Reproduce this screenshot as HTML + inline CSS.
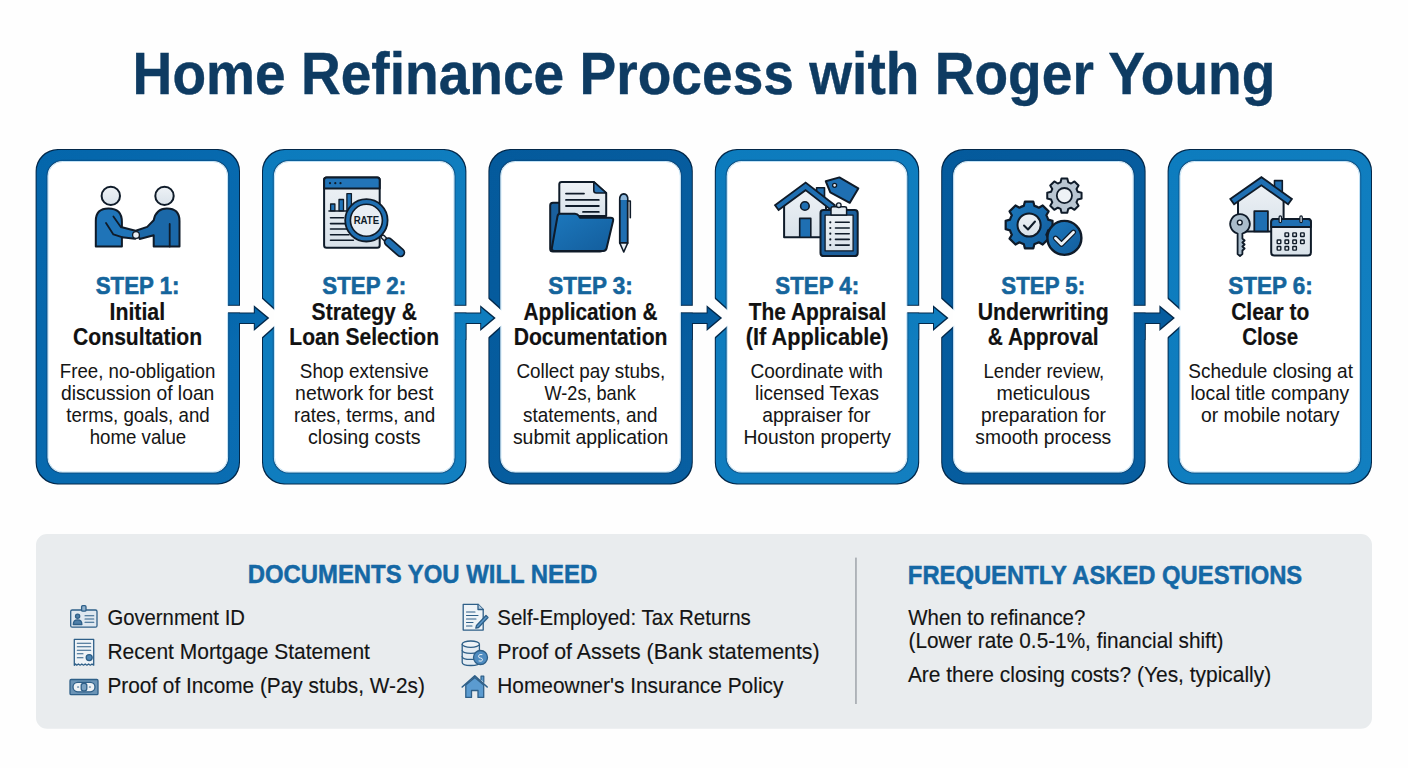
<!DOCTYPE html><html><head><meta charset="utf-8"><style>html,body{margin:0;padding:0;background:#fefefe;}svg{display:block;} text{font-family:"Liberation Sans", sans-serif;}</style></head><body>
<svg width="1408" height="768" viewBox="0 0 1408 768">
<defs>
<linearGradient id="g0" x1="0" y1="0" x2="1" y2="1"><stop offset="0" stop-color="#0466ab"/><stop offset="1" stop-color="#0a6db2"/></linearGradient>
<linearGradient id="g1" x1="0" y1="0" x2="1" y2="1"><stop offset="0" stop-color="#0c7bbd"/><stop offset="1" stop-color="#127fc0"/></linearGradient>
<linearGradient id="g2" x1="0" y1="0" x2="1" y2="1"><stop offset="0" stop-color="#045a9c"/><stop offset="1" stop-color="#085fa1"/></linearGradient>
<linearGradient id="g3" x1="0" y1="0" x2="1" y2="1"><stop offset="0" stop-color="#0c7bbd"/><stop offset="1" stop-color="#137fc0"/></linearGradient>
<linearGradient id="g4" x1="0" y1="0" x2="1" y2="1"><stop offset="0" stop-color="#045a9c"/><stop offset="1" stop-color="#085fa1"/></linearGradient>
<linearGradient id="g5" x1="0" y1="0" x2="1" y2="1"><stop offset="0" stop-color="#0d7cbe"/><stop offset="1" stop-color="#127fc0"/></linearGradient>
<linearGradient id="ib" x1="0" y1="0" x2="1" y2="1"><stop offset="0" stop-color="#1c78bd"/><stop offset="1" stop-color="#135d9c"/></linearGradient>
<linearGradient id="il" x1="0" y1="0" x2="0" y2="1"><stop offset="0" stop-color="#eef2f6"/><stop offset="1" stop-color="#d9e2ea"/></linearGradient>
<filter id="ol" x="-2%" y="-2%" width="104%" height="104%" color-interpolation-filters="sRGB"><feMorphology in="SourceAlpha" operator="erode" radius="1.3" result="e"/><feComposite in="SourceGraphic" in2="e" operator="in" result="inner"/><feFlood flood-color="#03284a" result="f"/><feComposite in="f" in2="SourceAlpha" operator="in" result="outl"/><feMerge><feMergeNode in="outl"/><feMergeNode in="inner"/></feMerge></filter>
<mask id="gm" maskUnits="userSpaceOnUse" x="0" y="0" width="1408" height="768"><rect x="0" y="0" width="1408" height="768" fill="#fff"/>
<rect x="225.0" y="305.8" width="17" height="6.8" fill="#000"/>
<polygon points="260.0,297 277.0,312.3 277.0,323.7 260.0,339" fill="#000"/>
<rect x="451.4" y="305.8" width="17" height="6.8" fill="#000"/>
<polygon points="486.4,297 503.4,312.3 503.4,323.7 486.4,339" fill="#000"/>
<rect x="677.8000000000001" y="305.8" width="17" height="6.8" fill="#000"/>
<polygon points="712.8000000000001,297 729.8000000000001,312.3 729.8000000000001,323.7 712.8000000000001,339" fill="#000"/>
<rect x="904.2" y="305.8" width="17" height="6.8" fill="#000"/>
<polygon points="939.2,297 956.2,312.3 956.2,323.7 939.2,339" fill="#000"/>
<rect x="1130.6000000000001" y="305.8" width="17" height="6.8" fill="#000"/>
<polygon points="1165.6000000000001,297 1182.6000000000001,312.3 1182.6000000000001,323.7 1165.6000000000001,339" fill="#000"/>
</mask>
</defs>
<rect x="0" y="0" width="1408" height="768" fill="#fefefe"/>
<text x="132.60" y="93.9" font-size="59.8" fill="#0e3b62" font-weight="bold" textLength="1142.81" lengthAdjust="spacingAndGlyphs" stroke="#0e3b62" stroke-width="0.4">Home Refinance Process with Roger Young</text>
<g filter="url(#ol)">
<path d="M57.6,149.0 H218.0 A22,22 0 0 1 240.0,171.0 V462.5 A22,22 0 0 1 218.0,484.5 H57.6 A22,22 0 0 1 35.6,462.5 V171.0 A22,22 0 0 1 57.6,149.0 Z M62.6,162.0 H213.0 A14,14 0 0 1 227.0,176.0 V457.5 A14,14 0 0 1 213.0,471.5 H62.6 A14,14 0 0 1 48.6,457.5 V176.0 A14,14 0 0 1 62.6,162.0 Z" fill="url(#g0)" fill-rule="evenodd" mask="url(#gm)"/>
<path d="M284.0,149.0 H444.4 A22,22 0 0 1 466.4,171.0 V462.5 A22,22 0 0 1 444.4,484.5 H284.0 A22,22 0 0 1 262.0,462.5 V171.0 A22,22 0 0 1 284.0,149.0 Z M289.0,162.0 H439.4 A14,14 0 0 1 453.4,176.0 V457.5 A14,14 0 0 1 439.4,471.5 H289.0 A14,14 0 0 1 275.0,457.5 V176.0 A14,14 0 0 1 289.0,162.0 Z" fill="url(#g1)" fill-rule="evenodd" mask="url(#gm)"/>
<path d="M510.40000000000003,149.0 H670.8000000000001 A22,22 0 0 1 692.8000000000001,171.0 V462.5 A22,22 0 0 1 670.8000000000001,484.5 H510.40000000000003 A22,22 0 0 1 488.40000000000003,462.5 V171.0 A22,22 0 0 1 510.40000000000003,149.0 Z M515.4000000000001,162.0 H665.8000000000001 A14,14 0 0 1 679.8000000000001,176.0 V457.5 A14,14 0 0 1 665.8000000000001,471.5 H515.4000000000001 A14,14 0 0 1 501.40000000000003,457.5 V176.0 A14,14 0 0 1 515.4000000000001,162.0 Z" fill="url(#g2)" fill-rule="evenodd" mask="url(#gm)"/>
<path d="M736.8000000000001,149.0 H897.2 A22,22 0 0 1 919.2,171.0 V462.5 A22,22 0 0 1 897.2,484.5 H736.8000000000001 A22,22 0 0 1 714.8000000000001,462.5 V171.0 A22,22 0 0 1 736.8000000000001,149.0 Z M741.8000000000001,162.0 H892.2 A14,14 0 0 1 906.2,176.0 V457.5 A14,14 0 0 1 892.2,471.5 H741.8000000000001 A14,14 0 0 1 727.8000000000001,457.5 V176.0 A14,14 0 0 1 741.8000000000001,162.0 Z" fill="url(#g3)" fill-rule="evenodd" mask="url(#gm)"/>
<path d="M963.2,149.0 H1123.6000000000001 A22,22 0 0 1 1145.6000000000001,171.0 V462.5 A22,22 0 0 1 1123.6000000000001,484.5 H963.2 A22,22 0 0 1 941.2,462.5 V171.0 A22,22 0 0 1 963.2,149.0 Z M968.2,162.0 H1118.6000000000001 A14,14 0 0 1 1132.6000000000001,176.0 V457.5 A14,14 0 0 1 1118.6000000000001,471.5 H968.2 A14,14 0 0 1 954.2,457.5 V176.0 A14,14 0 0 1 968.2,162.0 Z" fill="url(#g4)" fill-rule="evenodd" mask="url(#gm)"/>
<path d="M1189.6,149.0 H1350.0 A22,22 0 0 1 1372.0,171.0 V462.5 A22,22 0 0 1 1350.0,484.5 H1189.6 A22,22 0 0 1 1167.6,462.5 V171.0 A22,22 0 0 1 1189.6,149.0 Z M1194.6,162.0 H1345.0 A14,14 0 0 1 1359.0,176.0 V457.5 A14,14 0 0 1 1345.0,471.5 H1194.6 A14,14 0 0 1 1180.6,457.5 V176.0 A14,14 0 0 1 1194.6,162.0 Z" fill="url(#g5)" fill-rule="evenodd" mask="url(#gm)"/>
<polygon points="227.0,312.6 253.8,312.6 253.8,305.2 269.3,318.1 253.8,331.0 253.8,324.0 240.0,324.0 240.0,340.0 227.0,340.0" fill="url(#g0)"/>
<polygon points="453.4,312.6 480.2,312.6 480.2,305.2 495.7,318.1 480.2,331.0 480.2,324.0 466.4,324.0 466.4,340.0 453.4,340.0" fill="url(#g1)"/>
<polygon points="679.8,312.6 706.6,312.6 706.6,305.2 722.1,318.1 706.6,331.0 706.6,324.0 692.8,324.0 692.8,340.0 679.8,340.0" fill="url(#g2)"/>
<polygon points="906.2,312.6 933.0,312.6 933.0,305.2 948.5,318.1 933.0,331.0 933.0,324.0 919.2,324.0 919.2,340.0 906.2,340.0" fill="url(#g3)"/>
<polygon points="1132.6,312.6 1159.4,312.6 1159.4,305.2 1174.9,318.1 1159.4,331.0 1159.4,324.0 1145.6,324.0 1145.6,340.0 1132.6,340.0" fill="url(#g4)"/>
</g>
<path d="M62.6,160.9 H213.0 A15.1,15.1 0 0 1 228.1,176.0 V457.5 A15.1,15.1 0 0 1 213.0,472.6 H62.6 A15.1,15.1 0 0 1 47.5,457.5 V176.0 A15.1,15.1 0 0 1 62.6,160.9 Z" fill="#ffffff"/>
<path d="M62.599999999999994,160.3 H213.0 A15.7,15.7 0 0 1 228.7,176.0 V457.5 A15.7,15.7 0 0 1 213.0,473.2 H62.599999999999994 A15.7,15.7 0 0 1 46.9,457.5 V176.0 A15.7,15.7 0 0 1 62.599999999999994,160.3 Z" fill="none" stroke="#083f6e" stroke-opacity="0.45" stroke-width="1.2" mask="url(#gm)"/>
<path d="M62.6,161.5 H213.0 A14.5,14.5 0 0 1 227.5,176.0 V457.5 A14.5,14.5 0 0 1 213.0,472.0 H62.6 A14.5,14.5 0 0 1 48.1,457.5 V176.0 A14.5,14.5 0 0 1 62.6,161.5 Z" fill="none" stroke="#a6d6f2" stroke-opacity="0.7" stroke-width="1" mask="url(#gm)"/>
<path d="M289.0,160.9 H439.4 A15.1,15.1 0 0 1 454.5,176.0 V457.5 A15.1,15.1 0 0 1 439.4,472.6 H289.0 A15.1,15.1 0 0 1 273.9,457.5 V176.0 A15.1,15.1 0 0 1 289.0,160.9 Z" fill="#ffffff"/>
<path d="M289.0,160.3 H439.4 A15.7,15.7 0 0 1 455.09999999999997,176.0 V457.5 A15.7,15.7 0 0 1 439.4,473.2 H289.0 A15.7,15.7 0 0 1 273.3,457.5 V176.0 A15.7,15.7 0 0 1 289.0,160.3 Z" fill="none" stroke="#083f6e" stroke-opacity="0.45" stroke-width="1.2" mask="url(#gm)"/>
<path d="M289.0,161.5 H439.4 A14.5,14.5 0 0 1 453.9,176.0 V457.5 A14.5,14.5 0 0 1 439.4,472.0 H289.0 A14.5,14.5 0 0 1 274.5,457.5 V176.0 A14.5,14.5 0 0 1 289.0,161.5 Z" fill="none" stroke="#a6d6f2" stroke-opacity="0.7" stroke-width="1" mask="url(#gm)"/>
<path d="M515.4,160.9 H665.8000000000001 A15.1,15.1 0 0 1 680.9000000000001,176.0 V457.5 A15.1,15.1 0 0 1 665.8000000000001,472.6 H515.4 A15.1,15.1 0 0 1 500.3,457.5 V176.0 A15.1,15.1 0 0 1 515.4,160.9 Z" fill="#ffffff"/>
<path d="M515.4000000000001,160.3 H665.8000000000001 A15.7,15.7 0 0 1 681.5000000000001,176.0 V457.5 A15.7,15.7 0 0 1 665.8000000000001,473.2 H515.4000000000001 A15.7,15.7 0 0 1 499.70000000000005,457.5 V176.0 A15.7,15.7 0 0 1 515.4000000000001,160.3 Z" fill="none" stroke="#083f6e" stroke-opacity="0.45" stroke-width="1.2" mask="url(#gm)"/>
<path d="M515.4000000000001,161.5 H665.8000000000001 A14.5,14.5 0 0 1 680.3000000000001,176.0 V457.5 A14.5,14.5 0 0 1 665.8000000000001,472.0 H515.4000000000001 A14.5,14.5 0 0 1 500.90000000000003,457.5 V176.0 A14.5,14.5 0 0 1 515.4000000000001,161.5 Z" fill="none" stroke="#a6d6f2" stroke-opacity="0.7" stroke-width="1" mask="url(#gm)"/>
<path d="M741.8000000000001,160.9 H892.2 A15.1,15.1 0 0 1 907.3000000000001,176.0 V457.5 A15.1,15.1 0 0 1 892.2,472.6 H741.8000000000001 A15.1,15.1 0 0 1 726.7,457.5 V176.0 A15.1,15.1 0 0 1 741.8000000000001,160.9 Z" fill="#ffffff"/>
<path d="M741.8000000000001,160.3 H892.2 A15.7,15.7 0 0 1 907.9000000000001,176.0 V457.5 A15.7,15.7 0 0 1 892.2,473.2 H741.8000000000001 A15.7,15.7 0 0 1 726.1,457.5 V176.0 A15.7,15.7 0 0 1 741.8000000000001,160.3 Z" fill="none" stroke="#083f6e" stroke-opacity="0.45" stroke-width="1.2" mask="url(#gm)"/>
<path d="M741.8000000000001,161.5 H892.2 A14.5,14.5 0 0 1 906.7,176.0 V457.5 A14.5,14.5 0 0 1 892.2,472.0 H741.8000000000001 A14.5,14.5 0 0 1 727.3000000000001,457.5 V176.0 A14.5,14.5 0 0 1 741.8000000000001,161.5 Z" fill="none" stroke="#a6d6f2" stroke-opacity="0.7" stroke-width="1" mask="url(#gm)"/>
<path d="M968.2,160.9 H1118.6000000000001 A15.1,15.1 0 0 1 1133.7,176.0 V457.5 A15.1,15.1 0 0 1 1118.6000000000001,472.6 H968.2 A15.1,15.1 0 0 1 953.1,457.5 V176.0 A15.1,15.1 0 0 1 968.2,160.9 Z" fill="#ffffff"/>
<path d="M968.2,160.3 H1118.6000000000001 A15.7,15.7 0 0 1 1134.3000000000002,176.0 V457.5 A15.7,15.7 0 0 1 1118.6000000000001,473.2 H968.2 A15.7,15.7 0 0 1 952.5,457.5 V176.0 A15.7,15.7 0 0 1 968.2,160.3 Z" fill="none" stroke="#083f6e" stroke-opacity="0.45" stroke-width="1.2" mask="url(#gm)"/>
<path d="M968.2,161.5 H1118.6000000000001 A14.5,14.5 0 0 1 1133.1000000000001,176.0 V457.5 A14.5,14.5 0 0 1 1118.6000000000001,472.0 H968.2 A14.5,14.5 0 0 1 953.7,457.5 V176.0 A14.5,14.5 0 0 1 968.2,161.5 Z" fill="none" stroke="#a6d6f2" stroke-opacity="0.7" stroke-width="1" mask="url(#gm)"/>
<path d="M1194.6,160.9 H1345.0 A15.1,15.1 0 0 1 1360.1,176.0 V457.5 A15.1,15.1 0 0 1 1345.0,472.6 H1194.6 A15.1,15.1 0 0 1 1179.5,457.5 V176.0 A15.1,15.1 0 0 1 1194.6,160.9 Z" fill="#ffffff"/>
<path d="M1194.6,160.3 H1345.0 A15.7,15.7 0 0 1 1360.7,176.0 V457.5 A15.7,15.7 0 0 1 1345.0,473.2 H1194.6 A15.7,15.7 0 0 1 1178.8999999999999,457.5 V176.0 A15.7,15.7 0 0 1 1194.6,160.3 Z" fill="none" stroke="#083f6e" stroke-opacity="0.45" stroke-width="1.2" mask="url(#gm)"/>
<path d="M1194.6,161.5 H1345.0 A14.5,14.5 0 0 1 1359.5,176.0 V457.5 A14.5,14.5 0 0 1 1345.0,472.0 H1194.6 A14.5,14.5 0 0 1 1180.1,457.5 V176.0 A14.5,14.5 0 0 1 1194.6,161.5 Z" fill="none" stroke="#a6d6f2" stroke-opacity="0.7" stroke-width="1" mask="url(#gm)"/>
<text x="95.70" y="294.2" font-size="23.4" fill="#15659c" font-weight="bold" textLength="83.80" lengthAdjust="spacingAndGlyphs" stroke="#15659c" stroke-width="0.6">STEP 1:</text>
<text x="109.50" y="319.5" font-size="23.4" fill="#111111" font-weight="bold" textLength="55.61" lengthAdjust="spacingAndGlyphs" stroke="#111111" stroke-width="0.2">Initial</text>
<text x="73.10" y="344.5" font-size="23.4" fill="#111111" font-weight="bold" textLength="129.01" lengthAdjust="spacingAndGlyphs" stroke="#111111" stroke-width="0.2">Consultation</text>
<text x="59.82" y="377.6" font-size="19.8" fill="#151515" font-weight="normal" textLength="155.56" lengthAdjust="spacingAndGlyphs" stroke="#151515" stroke-width="0.05">Free, no-obligation</text>
<text x="60.92" y="399.65000000000003" font-size="19.8" fill="#151515" font-weight="normal" textLength="153.45" lengthAdjust="spacingAndGlyphs" stroke="#151515" stroke-width="0.05">discussion of loan</text>
<text x="66.33" y="421.70000000000005" font-size="19.8" fill="#151515" font-weight="normal" textLength="143.36" lengthAdjust="spacingAndGlyphs" stroke="#151515" stroke-width="0.05">terms, goals, and</text>
<text x="89.73" y="443.75" font-size="19.8" fill="#151515" font-weight="normal" textLength="96.55" lengthAdjust="spacingAndGlyphs" stroke="#151515" stroke-width="0.05">home value</text>
<text x="322.30" y="294.2" font-size="23.4" fill="#15659c" font-weight="bold" textLength="83.80" lengthAdjust="spacingAndGlyphs" stroke="#15659c" stroke-width="0.6">STEP 2:</text>
<text x="311.60" y="319.5" font-size="23.4" fill="#111111" font-weight="bold" textLength="105.29" lengthAdjust="spacingAndGlyphs" stroke="#111111" stroke-width="0.2">Strategy &amp;</text>
<text x="289.30" y="344.5" font-size="23.4" fill="#111111" font-weight="bold" textLength="149.81" lengthAdjust="spacingAndGlyphs" stroke="#111111" stroke-width="0.2">Loan Selection</text>
<text x="299.82" y="377.6" font-size="19.8" fill="#151515" font-weight="normal" textLength="128.85" lengthAdjust="spacingAndGlyphs" stroke="#151515" stroke-width="0.05">Shop extensive</text>
<text x="295.12" y="399.65000000000003" font-size="19.8" fill="#151515" font-weight="normal" textLength="138.26" lengthAdjust="spacingAndGlyphs" stroke="#151515" stroke-width="0.05">network for best</text>
<text x="293.92" y="421.70000000000005" font-size="19.8" fill="#151515" font-weight="normal" textLength="141.25" lengthAdjust="spacingAndGlyphs" stroke="#151515" stroke-width="0.05">rates, terms, and</text>
<text x="308.02" y="443.75" font-size="19.8" fill="#151515" font-weight="normal" textLength="112.44" lengthAdjust="spacingAndGlyphs" stroke="#151515" stroke-width="0.05">closing costs</text>
<text x="548.30" y="294.2" font-size="23.4" fill="#15659c" font-weight="bold" textLength="84.50" lengthAdjust="spacingAndGlyphs" stroke="#15659c" stroke-width="0.6">STEP 3:</text>
<text x="523.50" y="319.5" font-size="23.4" fill="#111111" font-weight="bold" textLength="133.91" lengthAdjust="spacingAndGlyphs" stroke="#111111" stroke-width="0.2">Application &amp;</text>
<text x="513.70" y="344.5" font-size="23.4" fill="#111111" font-weight="bold" textLength="153.80" lengthAdjust="spacingAndGlyphs" stroke="#111111" stroke-width="0.2">Documentation</text>
<text x="516.42" y="377.6" font-size="19.8" fill="#151515" font-weight="normal" textLength="148.74" lengthAdjust="spacingAndGlyphs" stroke="#151515" stroke-width="0.05">Collect pay stubs,</text>
<text x="544.52" y="399.65000000000003" font-size="19.8" fill="#151515" font-weight="normal" textLength="91.32" lengthAdjust="spacingAndGlyphs" stroke="#151515" stroke-width="0.05">W-2s, bank</text>
<text x="523.02" y="421.70000000000005" font-size="19.8" fill="#151515" font-weight="normal" textLength="134.45" lengthAdjust="spacingAndGlyphs" stroke="#151515" stroke-width="0.05">statements, and</text>
<text x="512.92" y="443.75" font-size="19.8" fill="#151515" font-weight="normal" textLength="155.36" lengthAdjust="spacingAndGlyphs" stroke="#151515" stroke-width="0.05">submit application</text>
<text x="775.30" y="294.2" font-size="23.4" fill="#15659c" font-weight="bold" textLength="83.80" lengthAdjust="spacingAndGlyphs" stroke="#15659c" stroke-width="0.6">STEP 4:</text>
<text x="748.70" y="319.5" font-size="23.4" fill="#111111" font-weight="bold" textLength="137.59" lengthAdjust="spacingAndGlyphs" stroke="#111111" stroke-width="0.2">The Appraisal</text>
<text x="745.80" y="344.5" font-size="23.4" fill="#111111" font-weight="bold" textLength="142.81" lengthAdjust="spacingAndGlyphs" stroke="#111111" stroke-width="0.2">(If Applicable)</text>
<text x="750.42" y="377.6" font-size="19.8" fill="#151515" font-weight="normal" textLength="132.36" lengthAdjust="spacingAndGlyphs" stroke="#151515" stroke-width="0.05">Coordinate with</text>
<text x="755.12" y="399.65000000000003" font-size="19.8" fill="#151515" font-weight="normal" textLength="123.75" lengthAdjust="spacingAndGlyphs" stroke="#151515" stroke-width="0.05">licensed Texas</text>
<text x="762.23" y="421.70000000000005" font-size="19.8" fill="#151515" font-weight="normal" textLength="108.15" lengthAdjust="spacingAndGlyphs" stroke="#151515" stroke-width="0.05">appraiser for</text>
<text x="743.42" y="443.75" font-size="19.8" fill="#151515" font-weight="normal" textLength="147.55" lengthAdjust="spacingAndGlyphs" stroke="#151515" stroke-width="0.05">Houston property</text>
<text x="1001.30" y="294.2" font-size="23.4" fill="#15659c" font-weight="bold" textLength="83.80" lengthAdjust="spacingAndGlyphs" stroke="#15659c" stroke-width="0.6">STEP 5:</text>
<text x="977.70" y="319.5" font-size="23.4" fill="#111111" font-weight="bold" textLength="130.99" lengthAdjust="spacingAndGlyphs" stroke="#111111" stroke-width="0.2">Underwriting</text>
<text x="987.80" y="344.5" font-size="23.4" fill="#111111" font-weight="bold" textLength="110.90" lengthAdjust="spacingAndGlyphs" stroke="#111111" stroke-width="0.2">&amp; Approval</text>
<text x="983.52" y="377.6" font-size="19.8" fill="#151515" font-weight="normal" textLength="120.65" lengthAdjust="spacingAndGlyphs" stroke="#151515" stroke-width="0.05">Lender review,</text>
<text x="996.42" y="399.65000000000003" font-size="19.8" fill="#151515" font-weight="normal" textLength="93.65" lengthAdjust="spacingAndGlyphs" stroke="#151515" stroke-width="0.05">meticulous</text>
<text x="981.12" y="421.70000000000005" font-size="19.8" fill="#151515" font-weight="normal" textLength="124.65" lengthAdjust="spacingAndGlyphs" stroke="#151515" stroke-width="0.05">preparation for</text>
<text x="975.32" y="443.75" font-size="19.8" fill="#151515" font-weight="normal" textLength="135.84" lengthAdjust="spacingAndGlyphs" stroke="#151515" stroke-width="0.05">smooth process</text>
<text x="1228.30" y="294.2" font-size="23.4" fill="#15659c" font-weight="bold" textLength="84.50" lengthAdjust="spacingAndGlyphs" stroke="#15659c" stroke-width="0.6">STEP 6:</text>
<text x="1231.20" y="319.5" font-size="23.4" fill="#111111" font-weight="bold" textLength="78.10" lengthAdjust="spacingAndGlyphs" stroke="#111111" stroke-width="0.2">Clear to</text>
<text x="1242.20" y="344.5" font-size="23.4" fill="#111111" font-weight="bold" textLength="56.00" lengthAdjust="spacingAndGlyphs" stroke="#111111" stroke-width="0.2">Close</text>
<text x="1188.23" y="377.6" font-size="19.8" fill="#151515" font-weight="normal" textLength="164.76" lengthAdjust="spacingAndGlyphs" stroke="#151515" stroke-width="0.05">Schedule closing at</text>
<text x="1190.53" y="399.65000000000003" font-size="19.8" fill="#151515" font-weight="normal" textLength="158.65" lengthAdjust="spacingAndGlyphs" stroke="#151515" stroke-width="0.05">local title company</text>
<text x="1201.12" y="421.70000000000005" font-size="19.8" fill="#151515" font-weight="normal" textLength="138.25" lengthAdjust="spacingAndGlyphs" stroke="#151515" stroke-width="0.05">or mobile notary</text>
<path d="M47,534 H1361 A11,11 0 0 1 1372,545 V717.8 A11,11 0 0 1 1361,728.8 H47 A11,11 0 0 1 36,717.8 V545 A11,11 0 0 1 47,534 Z" fill="#e9ecee"/>
<rect x="855.2" y="557.6" width="1.5" height="146.4" fill="#9ea4aa"/>
<text x="247.65" y="582.6" font-size="25.6" fill="#1568a5" font-weight="bold" textLength="349.51" lengthAdjust="spacingAndGlyphs" stroke="#1568a5" stroke-width="0.5">DOCUMENTS YOU WILL NEED</text>
<text x="907.85" y="583.7" font-size="25.6" fill="#1568a5" font-weight="bold" textLength="394.39" lengthAdjust="spacingAndGlyphs" stroke="#1568a5" stroke-width="0.5">FREQUENTLY ASKED QUESTIONS</text>
<text x="107.38" y="625.4" font-size="22.8" fill="#141414" font-weight="normal" textLength="137.56" lengthAdjust="spacingAndGlyphs" stroke="#141414" stroke-width="0.15">Government ID</text>
<text x="107.38" y="659.2" font-size="22.8" fill="#141414" font-weight="normal" textLength="262.55" lengthAdjust="spacingAndGlyphs" stroke="#141414" stroke-width="0.15">Recent Mortgage Statement</text>
<text x="107.38" y="693" font-size="22.8" fill="#141414" font-weight="normal" textLength="317.44" lengthAdjust="spacingAndGlyphs" stroke="#141414" stroke-width="0.15">Proof of Income (Pay stubs, W-2s)</text>
<text x="497.27" y="625.4" font-size="22.8" fill="#141414" font-weight="normal" textLength="253.55" lengthAdjust="spacingAndGlyphs" stroke="#141414" stroke-width="0.15">Self-Employed: Tax Returns</text>
<text x="497.27" y="659.2" font-size="22.8" fill="#141414" font-weight="normal" textLength="322.34" lengthAdjust="spacingAndGlyphs" stroke="#141414" stroke-width="0.15">Proof of Assets (Bank statements)</text>
<text x="497.27" y="693" font-size="22.8" fill="#141414" font-weight="normal" textLength="286.15" lengthAdjust="spacingAndGlyphs" stroke="#141414" stroke-width="0.15">Homeowner's Insurance Policy</text>
<text x="908.28" y="625.3" font-size="22.4" fill="#141414" font-weight="normal" textLength="177.05" lengthAdjust="spacingAndGlyphs" stroke="#141414" stroke-width="0.15">When to refinance?</text>
<text x="908.58" y="648.3" font-size="22.4" fill="#141414" font-weight="normal" textLength="314.96" lengthAdjust="spacingAndGlyphs" stroke="#141414" stroke-width="0.15">(Lower rate 0.5-1%, financial shift)</text>
<text x="907.88" y="682.4" font-size="22.4" fill="#141414" font-weight="normal" textLength="363.26" lengthAdjust="spacingAndGlyphs" stroke="#141414" stroke-width="0.15">Are there closing costs? (Yes, typically)</text>
<g stroke="#0f1b29" stroke-width="2" stroke-linejoin="round" stroke-linecap="round">
<circle cx="110.8" cy="195.9" r="9.2" fill="url(#il)"/>
<circle cx="164.5" cy="195.9" r="9.2" fill="url(#il)"/>
<path d="M95.8,246.5 V221 Q95.8,208.6 108.5,208.6 Q121.9,208.6 121.9,222 V227.3 L135.5,230.8 L138.5,236.5 L135,238.8 L121.9,237.2 V246.5 Z" fill="#1f74b8"/>
<path d="M179.5,246.5 V221 Q179.5,208.6 166.8,208.6 Q156,208.6 153.7,220.3 L147.2,226.9 L136.5,230.5 L139.7,239 L153.7,235.3 V246.5 Z" fill="#1b68a8"/>
<path d="M106,223 L113.4,234.4 L121.9,237.2 M113.4,216.5 L121,227.3 M169.7,224 V246.5" fill="none" stroke-width="1.8"/>
<circle cx="136" cy="235" r="3.4" fill="#e8eef4" stroke-width="1.3"/>
</g>
<g stroke="#0f1b29" stroke-linejoin="round" stroke-linecap="round">
<rect x="324.1" y="177.4" width="55.6" height="70.3" rx="2.5" fill="url(#il)" stroke-width="2"/>
<path d="M324.1,188.4 V179.9 Q324.1,177.4 326.6,177.4 H377.2 Q379.7,177.4 379.7,179.9 V188.4 Z" fill="#2274b8" stroke-width="2"/>
<circle cx="330" cy="183.2" r="1.1" fill="#0f1b29" stroke="none"/>
<circle cx="335.3" cy="183.2" r="1.1" fill="#0f1b29" stroke="none"/>
<circle cx="340.5" cy="183.2" r="1.1" fill="#0f1b29" stroke="none"/>
<rect x="330.6" y="204" width="4.3" height="6.8" fill="#2274b8" stroke-width="1.3"/>
<rect x="339" y="199.5" width="4.5" height="11.3" fill="#2274b8" stroke-width="1.3"/>
<rect x="346.9" y="193.6" width="4.5" height="17.2" fill="#2274b8" stroke-width="1.3"/>
<path d="M329,211 H356 M330.5,217.7 H343.6 M330.5,223.6 H346 M330.5,229 H347 M330.5,234.7 H349 M330.5,240.3 H353.4" fill="none" stroke-width="1.6"/>
<path d="M383,237 L388,242" stroke-width="5" fill="none"/>
<path d="M383,237 L388,242" stroke="#dfe7ee" stroke-width="2.4" fill="none"/>
<path d="M388.5,242 L400.5,252.5" stroke-width="9.5" fill="none"/>
<path d="M388.5,242 L400.5,252.5" stroke="#1f6fb2" stroke-width="6" fill="none"/>
<circle cx="366.4" cy="220.3" r="18.6" fill="#e8eef4" stroke="#1f6fb2" stroke-width="5"/>
<circle cx="366.4" cy="220.3" r="21.2" fill="none" stroke-width="1.8"/>
<circle cx="366.4" cy="220.3" r="16" fill="none" stroke-width="1.6"/>
</g>
<text x="366.4" y="224.3" font-size="10.5" font-weight="bold" fill="#0f1b29" text-anchor="middle" textLength="25.5" lengthAdjust="spacingAndGlyphs">RATE</text>
<g stroke="#0f1b29" stroke-linejoin="round" stroke-linecap="round">
<path d="M550.2,249 V205.5 Q550.2,202.8 553,202.8 H600 Q602.5,202.8 602.5,205.5 V249 Q602.5,251.6 600,251.6 H553 Q550.2,251.6 550.2,249 Z" fill="#1a5f9c" stroke-width="2"/>
<path d="M559.3,216 V184.3 Q559.3,181.9 561.7,181.9 H593.8 L606.2,193 V216 Z" fill="url(#il)" stroke-width="2"/>
<path d="M593.8,181.9 V190.5 Q593.8,193 596.3,193 H606.2 Z" fill="#2a73b2" stroke-width="1.6"/>
<path d="M566,193.6 H584 M566,199.9 H598.8 M566,206 H598.8 M583,211.9 H598.8" fill="none" stroke-width="1.8"/>
<path d="M560,213.8 H575 Q577.5,213.8 579,216 L580,217.7 H610.5 Q613.8,217.7 613.1,220.8 L606.6,248.3 Q606,250.9 603.3,250.9 H554.5 Q551.3,250.9 551.9,247.8 L557.5,216.3 Q558,213.8 560,213.8 Z" fill="url(#ib)" stroke-width="2"/>
<path d="M627.5,201 H630.3 V217.7" fill="none" stroke-width="1.6"/>
<path d="M619.8,243 V199.5 Q619.8,193.8 623.75,193.8 Q627.7,193.8 627.7,199.5 V243 Z" fill="#1f6fb2" stroke-width="1.8"/>
<path d="M620.5,200 Q620.5,195 623.75,195 Q627,195 627,200 Z" fill="#8fb6d8" stroke="none"/>
<path d="M619.8,243 H627.7 L623.75,252 Z" fill="#e6edf3" stroke-width="1.6"/>
</g>
<g stroke="#0f1b29" stroke-linejoin="round" stroke-linecap="round">
<rect x="816.6" y="187.8" width="7.9" height="12" fill="#1f6fb2" stroke-width="1.6"/>
<path d="M784.1,237.3 V204 L805.6,188 L826,203 V237.3 Z" fill="url(#il)" stroke-width="2"/>
<path d="M778.58,210.02 L805.55,190.16 L831.16,209.97 L834.84,205.23 L805.65,182.64 L775.02,205.18 Z" fill="#1f6fb2" stroke-width="1.8" stroke-linejoin="miter"/>
<circle cx="804.9" cy="206" r="4.3" fill="#1f6fb2" stroke-width="1.6"/>
<rect x="799.7" y="218.4" width="11.1" height="18.9" fill="#1f6fb2" stroke-width="1.6"/>
<path d="M825.8,181.3 L839.4,177.4 L858.3,188.4 L849.8,202.8 L830.3,192.3 Z" fill="#1f6fb2" stroke-width="2"/>
<circle cx="834.6" cy="185.3" r="2" fill="#e8eef4" stroke-width="1.3"/>
<rect x="820.5" y="209.9" width="37.2" height="46.2" rx="3" fill="#1c5f9c" stroke-width="2"/>
<rect x="825.1" y="215.1" width="28" height="35.8" fill="url(#il)" stroke-width="1.3"/>
<path d="M831,215.1 V208.5 Q831,206.8 833,206.8 H844.6 Q846.6,206.8 846.6,208.5 V215.1 Z" fill="#e4ebf1" stroke-width="1.5"/>
<circle cx="838.8" cy="205.2" r="2.3" fill="#e4ebf1" stroke-width="1.3"/>
<circle cx="830.3" cy="222.3" r="1.1" fill="#0f1b29" stroke="none"/>
<path d="M835.5,222.3 H849.2" stroke-width="1.6" fill="none"/>
<circle cx="830.3" cy="228.0" r="1.1" fill="#0f1b29" stroke="none"/>
<path d="M835.5,228.0 H849.2" stroke-width="1.6" fill="none"/>
<circle cx="830.3" cy="233.7" r="1.1" fill="#0f1b29" stroke="none"/>
<path d="M835.5,233.7 H849.2" stroke-width="1.6" fill="none"/>
<circle cx="830.3" cy="239.4" r="1.1" fill="#0f1b29" stroke="none"/>
<path d="M835.5,239.4 H849.2" stroke-width="1.6" fill="none"/>
<circle cx="830.3" cy="245.1" r="1.1" fill="#0f1b29" stroke="none"/>
<path d="M835.5,245.1 H849.2" stroke-width="1.6" fill="none"/>
</g>
<g stroke="#0f1b29" stroke-linejoin="round">
<path d="M1060.55,182.35 L1061.51,178.44 L1067.29,178.44 L1068.25,182.35 A13.8,13.8 0 0 1 1071.05,183.51 L1074.49,181.43 L1078.57,185.51 L1076.49,188.95 A13.8,13.8 0 0 1 1077.65,191.75 L1081.56,192.71 L1081.56,198.49 L1077.65,199.45 A13.8,13.8 0 0 1 1076.49,202.25 L1078.57,205.69 L1074.49,209.77 L1071.05,207.69 A13.8,13.8 0 0 1 1068.25,208.85 L1067.29,212.76 L1061.51,212.76 L1060.55,208.85 A13.8,13.8 0 0 1 1057.75,207.69 L1054.31,209.77 L1050.23,205.69 L1052.31,202.25 A13.8,13.8 0 0 1 1051.15,199.45 L1047.24,198.49 L1047.24,192.71 L1051.15,191.75 A13.8,13.8 0 0 1 1052.31,188.95 L1050.23,185.51 L1054.31,181.43 L1057.75,183.51 A13.8,13.8 0 0 1 1060.55,182.35 Z" fill="#b9c6d2" stroke-width="2"/>
<circle cx="1064.4" cy="195.6" r="7.6" fill="#eef2f6" stroke-width="1.8"/>
<path d="M1023.77,205.93 L1024.92,201.57 L1033.28,201.57 L1034.43,205.93 A19.8,19.8 0 0 1 1038.81,207.75 L1042.71,205.48 L1048.62,211.39 L1046.35,215.29 A19.8,19.8 0 0 1 1048.17,219.67 L1052.53,220.82 L1052.53,229.18 L1048.17,230.33 A19.8,19.8 0 0 1 1046.35,234.71 L1048.62,238.61 L1042.71,244.52 L1038.81,242.25 A19.8,19.8 0 0 1 1034.43,244.07 L1033.28,248.43 L1024.92,248.43 L1023.77,244.07 A19.8,19.8 0 0 1 1019.39,242.25 L1015.49,244.52 L1009.58,238.61 L1011.85,234.71 A19.8,19.8 0 0 1 1010.03,230.33 L1005.67,229.18 L1005.67,220.82 L1010.03,219.67 A19.8,19.8 0 0 1 1011.85,215.29 L1009.58,211.39 L1015.49,205.48 L1019.39,207.75 A19.8,19.8 0 0 1 1023.77,205.93 Z" fill="url(#ib)" stroke-width="2.2"/>
<circle cx="1029.1" cy="225" r="11.6" fill="url(#il)" stroke-width="2"/>
<path d="M1024,225.5 L1028,229.5 L1035,221.5" fill="none" stroke-width="2" stroke-linecap="round"/>
<circle cx="1064.4" cy="237.9" r="17" fill="url(#ib)" stroke-width="2.4"/>
<path d="M1055.5,238.2 L1061.5,244.2 L1073.5,232.2" fill="none" stroke-width="5.2" stroke-linecap="round"/>
<path d="M1055.5,238.2 L1061.5,244.2 L1073.5,232.2" fill="none" stroke="#eef3f7" stroke-width="2.8" stroke-linecap="round"/>
</g>
<g stroke="#0f1b29" stroke-linejoin="round" stroke-linecap="round">
<rect x="1274.5" y="180.6" width="7.8" height="13" fill="#1f6fb2" stroke-width="1.6"/>
<path d="M1238,231.4 V197 L1261.4,182 L1283.6,197 V231.4 Z" fill="url(#il)" stroke-width="2"/>
<path d="M1234.09,204.31 L1261.38,185.24 L1288.08,204.29 L1291.92,198.91 L1261.42,177.16 L1230.31,198.89 Z" fill="#1f6fb2" stroke-width="1.8" stroke-linejoin="miter"/>
<rect x="1254.3" y="211.2" width="13.6" height="20.2" fill="#1f6fb2" stroke-width="1.8"/>
<path d="M1237.6,233.5 A9.8,9.8 0 1 1 1242.4,233.5 V238.5 L1244.6,240.5 L1242.4,242.5 L1244.6,244.5 L1242.4,246.5 L1244.6,248.5 L1242.4,250.5 V254 L1240,256 L1237.6,254 Z" fill="#a9bccb" stroke-width="1.8"/>
<circle cx="1239.8" cy="222.5" r="2.4" fill="#eef2f6" stroke-width="1.4"/>
<rect x="1271.2" y="219" width="39.7" height="36.5" rx="3" fill="url(#il)" stroke-width="2"/>
<path d="M1271.2,227 V222 Q1271.2,219 1274.2,219 H1307.9 Q1310.9,219 1310.9,222 V227 Z" fill="#1f6fb2" stroke-width="1.8"/>
<rect x="1279.1" y="215.8" width="2.4" height="6.8" rx="1.2" fill="#eef2f6" stroke-width="1.2"/>
<rect x="1299.8999999999999" y="215.8" width="2.4" height="6.8" rx="1.2" fill="#eef2f6" stroke-width="1.2"/>
<rect x="1285.0" y="232.89999999999998" width="3.6" height="3.6" rx="0.6" fill="#eef2f6" stroke-width="1.4"/>
<rect x="1292.8" y="232.89999999999998" width="3.6" height="3.6" rx="0.6" fill="#eef2f6" stroke-width="1.4"/>
<rect x="1300.6000000000001" y="232.89999999999998" width="3.6" height="3.6" rx="0.6" fill="#eef2f6" stroke-width="1.4"/>
<rect x="1277.2" y="240.0" width="3.6" height="3.6" rx="0.6" fill="#eef2f6" stroke-width="1.4"/>
<rect x="1285.0" y="240.0" width="3.6" height="3.6" rx="0.6" fill="#eef2f6" stroke-width="1.4"/>
<rect x="1292.8" y="240.0" width="3.6" height="3.6" rx="0.6" fill="#eef2f6" stroke-width="1.4"/>
<rect x="1300.6000000000001" y="240.0" width="3.6" height="3.6" rx="0.6" fill="#eef2f6" stroke-width="1.4"/>
<rect x="1277.2" y="246.5" width="3.6" height="3.6" rx="0.6" fill="#eef2f6" stroke-width="1.4"/>
<rect x="1285.0" y="246.5" width="3.6" height="3.6" rx="0.6" fill="#eef2f6" stroke-width="1.4"/>
<rect x="1292.8" y="246.5" width="3.6" height="3.6" rx="0.6" fill="#eef2f6" stroke-width="1.4"/>
</g>
<g stroke="#2e5f88" stroke-linejoin="round" stroke-linecap="round" stroke-width="1.3">
<rect x="70.7" y="610" width="26.3" height="17.2" rx="1.5" fill="#dfe8f0"/>
<rect x="81.6" y="605.6" width="4.4" height="5.6" rx="1.2" fill="#8fb0cc"/>
<circle cx="77.6" cy="616.2" r="2.1" fill="#4f7fa8"/>
<path d="M73.3,624.5 Q73.3,619.8 77.6,619.8 Q81.9,619.8 81.9,624.5 Z" fill="#4f7fa8"/>
<path d="M85,615.7 H93.8 M85,619 H93.8 M85,622.2 H93.8" fill="none" stroke-width="1.1"/>
<path d="M74.3,665.2 V639.4 H93.7 V665.2 L92,664 L90.3,665.2 L88.6,664 L86.9,665.2 L85.2,664 L83.5,665.2 L81.8,664 L80.1,665.2 L78.4,664 L76.7,665.2 L75.5,664 Z" fill="#eef3f7"/>
<path d="M77.3,643.3 H90.7 M77.3,646.8 H90.7 M77.3,650.3 H90.7 M77.3,653.8 H83 M77.3,657.8 H83" fill="none" stroke-width="1.1"/>
<circle cx="89.2" cy="657.6" r="3" fill="#4f87b6"/>
<rect x="70" y="679.5" width="28" height="15.1" rx="1.2" fill="#6b94b6"/>
<rect x="73" y="682.3" width="22" height="9.5" rx="4.75" fill="#eef2f5"/>
<rect x="81.2" y="683.3" width="5.6" height="7.5" rx="2.2" fill="#7aa1c1"/>
<path d="M77.6,687 H78.6 M89.4,687 H90.4" fill="none" stroke-width="1.2"/>
<path d="M463.2,630.1 V604.3 H478 L483.2,609.5 V630.1 Z" fill="#eef3f7"/>
<path d="M478,604.3 V609.5 H483.2" fill="#b8cde0"/>
<path d="M466.5,612 H475 M466.5,615.5 H478 M466.5,619 H476 M466.5,622.5 H473 M466.5,626 H472" fill="none" stroke-width="1.1"/>
<path d="M476.5,625.5 L486,615.5 L488,617.5 L478.5,627.5 L475.8,628.2 Z" fill="#5b97c9"/>
<path d="M462.2,656.4 V662.5 Q462.2,665.5 470.8,665.5 Q479.4,665.5 479.4,662.5 V656.4" fill="#e4ecf3"/>
<path d="M462.2,650.3 V656.4 Q462.2,659.4 470.8,659.4 Q479.4,659.4 479.4,656.4 V650.3" fill="#e4ecf3"/>
<path d="M462.2,644.2 V650.3000000000001 Q462.2,653.3000000000001 470.8,653.3000000000001 Q479.4,653.3000000000001 479.4,650.3000000000001 V644.2" fill="#e4ecf3"/>
<ellipse cx="470.8" cy="644.2" rx="8.6" ry="3.2" fill="#eef3f7"/>
<circle cx="480.5" cy="657.5" r="7" fill="#4f8cc0"/>
<path d="M482,654.5 Q478.5,653.8 478.5,656.3 Q478.5,658 480.5,658 Q482.5,658 482.5,659.8 Q482.5,662 479,661" fill="none" stroke="#e8eff5" stroke-width="1"/>
<path d="M465.8,685 V697.4 H471.5 V690.5 H478 V697.4 H483.7 V685 L474.8,677.5 Z" fill="#5b9bd0"/>
<path d="M462.2,687 L474.8,675.8 L487.2,687" fill="none" stroke-width="1.6"/>
<path d="M481,679.8 V676.2 H483.8 V682.3" fill="#5b9bd0" stroke-width="1.2"/>
</g>
</svg></body></html>
